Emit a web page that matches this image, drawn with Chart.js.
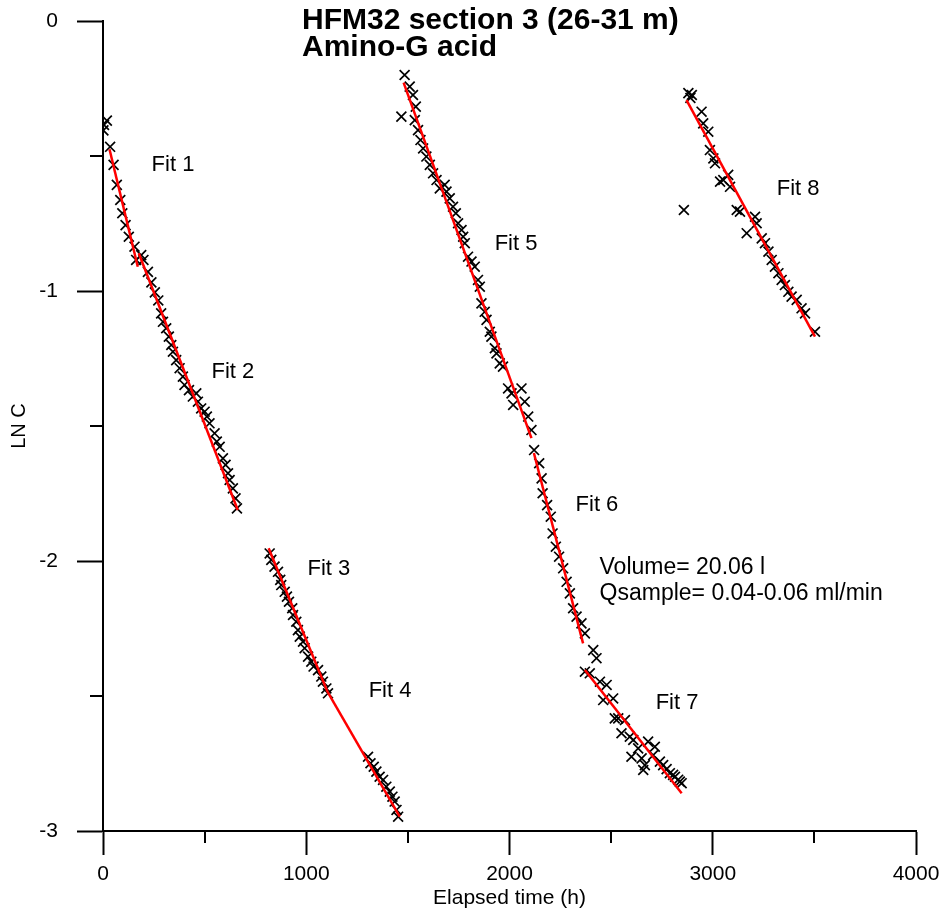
<!DOCTYPE html>
<html>
<head>
<meta charset="utf-8">
<script src="https://cdn.jsdelivr.net/npm/chart.js@4"></script>
<style>
  html, body { margin: 0; padding: 0; background: #fff; }
  canvas { display: block; }
</style>
</head>
<body>
<canvas id="tracerChart" width="943" height="923"></canvas>
<script>
// Measured samples, elapsed time (h) and ln of concentration
const sampleTime = [
    // fit 1
    2, 5, 19, 35, 52, 68, 85, 95, 111, 127, 155, 163, 188, 199,
    // fit 2
    221, 238, 255, 272, 286, 295, 311, 324, 336, 344, 360, 377, 393, 401, 423, 442,
    459, 467, 483, 500, 511, 524, 549, 560, 574, 590, 603, 615, 623, 639, 652, 659,
    // fit 3
    820, 828, 844, 861, 872, 877, 894, 905, 915, 931, 935, 951, 959, 968, 984, 992,
    1009, 1025, 1036, 1058, 1074, 1082, 1099, 1107,
    // fit 4
    1304, 1316, 1332, 1345, 1361, 1378, 1394, 1411, 1424, 1435, 1444, 1452,
    // fit 5
    1468, 1484, 1509, 1525, 1539, 1534, 1550, 1562, 1575, 1591, 1608, 1624, 1641, 1657,
    1681, 1690, 1706, 1722, 1736, 1747, 1764, 1772, 1780, 1796, 1813, 1829, 1845, 1854,
    1862, 1878, 1887, 1903, 1911, 1928, 1936, 1952, 1968, 1993, 2010, 2059, 2018, 2075,
    2092, 2108,
    // fit 6
    2121, 2146, 2158, 2163, 2185, 2203, 2212, 2228, 2244, 2264, 2281, 2297, 2313, 2330,
    2354, 2371,
    // fit 7
    2371, 2395, 2412, 2428, 2445, 2478, 2461, 2510, 2518, 2535, 2568, 2551, 2592, 2609,
    2633, 2682, 2715, 2600, 2650, 2666, 2658, 2707, 2740, 2756, 2773, 2789, 2805, 2814,
    2830, 2838, 2847,
    // fit 8
    2858, 2880, 2897, 2890, 2945, 2953, 2978, 2986, 3003, 3011, 3036, 3052, 3076, 3085,
    3118, 3134, 3167, 3208, 3216, 3241, 3257, 3274, 3290, 3306, 3323, 3339, 3355, 3372,
    3388, 3413, 3437, 3454, 3503
];
const sampleLnC = [
    -0.405, -0.385, -0.369, -0.466, -0.533, -0.607, -0.663, -0.712, -0.756, -0.799, -0.836, -0.885, -0.867, -0.885,
    -0.929, -0.968, -1.005, -1.035, -1.083, -1.114, -1.138, -1.169, -1.200, -1.225, -1.256, -1.286, -1.317, -1.348, -1.367, -1.391,
    -1.379, -1.410, -1.435, -1.447, -1.465, -1.490, -1.527, -1.558, -1.577, -1.620, -1.644, -1.675, -1.700, -1.731, -1.768, -1.805,
    -1.972, -1.996, -2.021, -2.040, -2.070, -2.089, -2.114, -2.132, -2.151, -2.175, -2.200, -2.225, -2.256, -2.280, -2.299, -2.323,
    -2.354, -2.373, -2.391, -2.404, -2.428, -2.447, -2.472, -2.490,
    -2.725, -2.749, -2.762, -2.780, -2.799, -2.811, -2.836, -2.854, -2.873, -2.891, -2.922, -2.947,
    -0.354, -0.200, -0.243, -0.274, -0.317, -0.367, -0.404, -0.441, -0.472, -0.502, -0.533, -0.564, -0.589, -0.620,
    -0.607, -0.632, -0.657, -0.688, -0.712, -0.749, -0.774, -0.799, -0.823, -0.873, -0.891, -0.910, -0.959, -0.984,
    -1.046, -1.077, -1.107, -1.151, -1.169, -1.212, -1.231, -1.268, -1.280, -1.361, -1.379, -1.361, -1.422, -1.410,
    -1.465, -1.515,
    -1.589, -1.638, -1.694, -1.749, -1.793, -1.836, -1.898, -1.947, -1.984, -2.027, -2.077, -2.120, -2.175, -2.206,
    -2.231, -2.268,
    -2.410, -2.416, -2.330, -2.360, -2.447, -2.459, -2.515, -2.509, -2.583, -2.583, -2.589, -2.638, -2.651, -2.663,
    -2.694, -2.669, -2.688, -2.725, -2.731, -2.756, -2.774, -2.719, -2.743, -2.756, -2.771, -2.786, -2.792, -2.799,
    -2.810, -2.817, -2.823,
    -0.700, -0.267, -0.274, -0.285, -0.336, -0.379, -0.410, -0.478, -0.509, -0.527, -0.595, -0.589, -0.570, -0.614,
    -0.700, -0.706, -0.786, -0.725, -0.749, -0.805, -0.823, -0.854, -0.885, -0.910, -0.934, -0.959, -0.978, -1.003,
    -1.021, -1.033, -1.064, -1.083, -1.151
];

// Straight-line fits: start and end of each segment
const fitNames = ['Fit 1', 'Fit 2', 'Fit 3', 'Fit 4', 'Fit 5', 'Fit 6', 'Fit 7', 'Fit 8'];
const fitStartTime = [32, 176, 815, 1105, 1479, 2120, 2371, 2871];
const fitEndTime = [171, 663, 1105, 1460, 2108, 2362, 2847, 3503];
const fitStartLnC = [-0.475, -0.860, -1.953, -2.485, -0.228, -1.600, -2.404, -0.293];
const fitEndLnC = [-0.910, -1.811, -2.485, -2.947, -1.545, -2.305, -2.860, -1.169];

// Where each fit name is written (time, lnC)
const fitLabelTime = [239, 534, 1006, 1307, 1927, 2325, 2719, 3315];
const fitLabelLnC = [-0.533, -1.300, -2.030, -2.480, -0.826, -1.793, -2.526, -0.622];

const xTicks = [0, 1000, 2000, 3000, 4000];
const yTicks = [0, -1, -2, -3];
const xMinorTicks = [500, 1500, 2500, 3500];
const yMinorTicks = [-0.5, -1.5, -2.5];

const FONT = "'Liberation Sans', Arial, sans-serif";

const samples = sampleTime.map((t, i) => ({ x: t, y: sampleLnC[i] }));

const datasets = [{
    label: 'Samples',
    data: samples,
    showLine: false,
    pointStyle: 'crossRot',
    pointRadius: 7,
    pointBorderWidth: 1.7,
    pointBorderColor: '#000',
    order: 2
}];

fitNames.forEach((name, i) => {
    datasets.push({
        label: name,
        type: 'line',
        data: [
            { x: fitStartTime[i], y: fitStartLnC[i] },
            { x: fitEndTime[i], y: fitEndLnC[i] }
        ],
        borderColor: '#ff0000',
        borderWidth: 2.5,
        pointRadius: 0,
        fill: false,
        order: 1
    });
});

// keep the plot box fixed: no extra room for half tick labels
function fixPadding(scale) {
    scale.paddingTop = 0;
    scale.paddingBottom = 0;
    scale.paddingLeft = 0;
    scale.paddingRight = 0;
}

// short minor tick marks halfway between labelled ticks
const minorTicks = {
    id: 'minorTicks',
    afterDraw(chart) {
        const c = chart.ctx;
        const xs = chart.scales.x;
        const ys = chart.scales.y;
        c.save();
        c.strokeStyle = '#000';
        c.lineWidth = 2;
        c.beginPath();
        xMinorTicks.forEach(v => {
            const px = Math.round(xs.getPixelForValue(v));
            c.moveTo(px, ys.bottom);
            c.lineTo(px, ys.bottom + 12);
        });
        yMinorTicks.forEach(v => {
            const py = Math.round(ys.getPixelForValue(v));
            c.moveTo(xs.left - 13, py);
            c.lineTo(xs.left, py);
        });
        c.stroke();
        c.restore();
    }
};

// title block and text notes
const notes = {
    id: 'notes',
    afterDraw(chart) {
        const c = chart.ctx;
        const xs = chart.scales.x;
        const ys = chart.scales.y;
        c.save();
        c.fillStyle = '#000';
        c.textBaseline = 'middle';
        c.textAlign = 'left';

        c.font = '22px ' + FONT;
        fitNames.forEach((name, i) => {
            c.fillText(name, xs.getPixelForValue(fitLabelTime[i]), ys.getPixelForValue(fitLabelLnC[i]));
        });

        c.font = '23px ' + FONT;
        c.fillText('Volume= 20.06 l', xs.getPixelForValue(2443), ys.getPixelForValue(-2.026));
        c.fillText('Qsample= 0.04-0.06 ml/min', xs.getPixelForValue(2443), ys.getPixelForValue(-2.122));

        c.textBaseline = 'alphabetic';
        c.font = 'bold 30px ' + FONT;
        c.fillText('HFM32 section 3 (26-31 m)', 302, 29);
        c.fillText('Amino-G acid', 302, 56);
        c.restore();
    }
};

const ctx = document.getElementById('tracerChart');

new Chart(ctx, {
    type: 'scatter',
    data: { datasets },
    options: {
        responsive: false,
        animation: false,
        layout: {
            autoPadding: false,
            padding: { left: 0, right: 27, top: 21, bottom: 0 }
        },
        plugins: {
            legend: { display: false },
            tooltip: { enabled: false }
        },
        scales: {
            x: {
                type: 'linear',
                min: 0,
                max: 4000,
                afterBuildTicks: scale => {
                    scale.ticks = xTicks.map(v => ({ value: v }));
                },
                afterFit: scale => {
                    scale.height = 92;
                    fixPadding(scale);
                },
                ticks: {
                    color: '#000',
                    padding: 7,
                    maxRotation: 0,
                    callback: v => String(v),
                    font: { family: FONT, size: 21 }
                },
                grid: {
                    drawOnChartArea: false,
                    tickLength: 24,
                    tickWidth: 2,
                    tickColor: '#000'
                },
                border: { display: true, color: '#000', width: 2 },
                title: {
                    display: true,
                    text: 'Elapsed time (h)',
                    color: '#000',
                    font: { family: FONT, size: 21 },
                    padding: { top: 0, bottom: 12 }
                }
            },
            y: {
                type: 'linear',
                min: -3,
                max: 0,
                afterBuildTicks: scale => {
                    scale.ticks = yTicks.map(v => ({ value: v }));
                },
                afterFit: scale => {
                    scale.width = 103;
                    fixPadding(scale);
                },
                ticks: {
                    color: '#000',
                    padding: 19,
                    callback: v => String(v),
                    font: { family: FONT, size: 21 }
                },
                grid: {
                    drawOnChartArea: false,
                    tickLength: 26,
                    tickWidth: 2,
                    tickColor: '#000'
                },
                border: { display: true, color: '#000', width: 2 },
                title: {
                    display: true,
                    text: 'LN C',
                    color: '#000',
                    font: { family: FONT, size: 20 },
                    padding: { top: 7, bottom: 0 }
                }
            }
        }
    },
    plugins: [minorTicks, notes]
});
</script>
</body>
</html>
